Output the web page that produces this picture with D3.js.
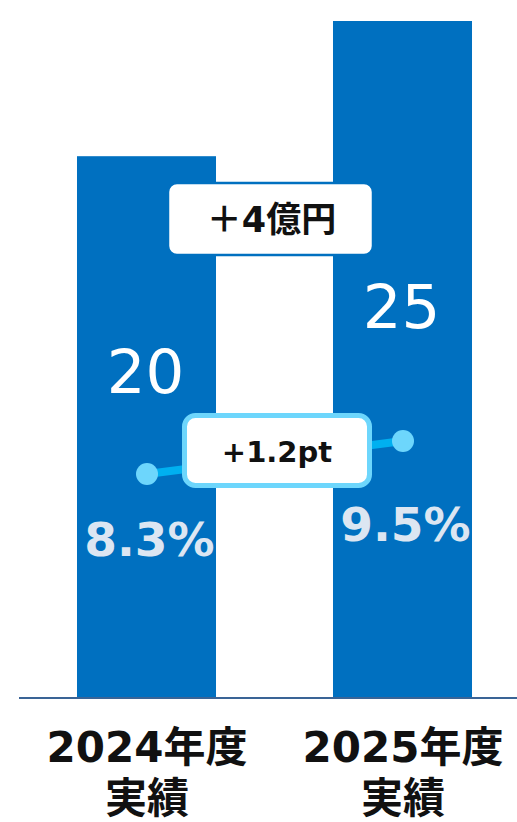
<!DOCTYPE html>
<html>
<head>
<meta charset="utf-8">
<script src="https://cdn.jsdelivr.net/npm/d3@7"></script>
<style>
  html, body { margin: 0; padding: 0; background: #fff; }
  svg { display: block; }
</style>
</head>
<body>
<svg id="chart" width="517" height="822"></svg>
<script>
// ---- data ----
const categories = ["2024年度", "2025年度"];
const categorySub = ["実績", "実績"];
const salesValues = [20, 25];          // 億円
const marginValues = [8.3, 9.5];       // %
const marginLabels = ["8.3%", "9.5%"];
const salesDiffLabel = "＋4億円";
const marginDiffLabel = "+1.2pt";

// ---- styles ----
const barColor = "#0070c0";
const lineColor = "#00b0f0";
const dotColor = "#6dd6fc";
const pctColor = "#dce6f2";
const axisColor = "#3a6496";

const W = 517, H = 822;
const baseY = 697;
const svg = d3.select("#chart");

const x = d3.scaleBand()
  .domain(categories)
  .range([18.5, 530.5])
  .paddingInner(0.457)
  .paddingOuter(0.2285);

const y = d3.scaleLinear().domain([0, 25]).range([baseY, 21]);
const yPct = d3.scaleLinear().domain([8.3, 9.5]).range([474, 441]);

// bars
svg.selectAll("rect.bar").data(salesValues).join("rect")
  .attr("class", "bar")
  .attr("x", (d, i) => x(categories[i]))
  .attr("width", x.bandwidth())
  .attr("y", d => y(d))
  .attr("height", d => baseY - y(d))
  .attr("fill", barColor);

// axis baseline
const axis = d3.axisBottom(x).tickSize(0).tickFormat("");
const gAxis = svg.append("g").attr("transform", `translate(0,${baseY})`).call(axis);
gAxis.select(".domain").remove();
svg.append("line")
  .attr("x1", 19).attr("x2", W)
  .attr("y1", baseY + 1).attr("y2", baseY + 1)
  .attr("stroke", axisColor).attr("stroke-width", 2);

// value labels
const valueLabelY = [393, 328];
svg.selectAll("text.val").data(salesValues).join("text")
  .attr("class", "val")
  .attr("x", (d, i) => x(categories[i]) + x.bandwidth() / 2 - 1)
  .attr("y", (d, i) => valueLabelY[i])
  .attr("text-anchor", "middle")
  .attr("font-family", "'DejaVu Sans', Verdana, sans-serif")
  .attr("font-size", 61)
  .attr("fill", "#fff")
  .text(d => d);

// sales diff box
const box1 = { cx: 270.5, y0: 183, y1: 255, w: 205 };
svg.append("rect")
  .attr("x", box1.cx - box1.w / 2).attr("y", box1.y0)
  .attr("width", box1.w).attr("height", box1.y1 - box1.y0)
  .attr("rx", 9).attr("ry", 9)
  .attr("fill", "#fff").attr("stroke", barColor).attr("stroke-width", 2.5);
svg.append("text")
  .attr("x", box1.cx + 1).attr("y", 232)
  .attr("text-anchor", "middle")
  .attr("font-family", "'DejaVu Sans', 'Noto Sans CJK JP', sans-serif")
  .attr("font-weight", "bold")
  .attr("font-size", 35)
  .attr("fill", "#111")
  .text(salesDiffLabel);

// margin line
const pts = marginValues.map((v, i) => [x(categories[i]) + x.bandwidth() / 2 + 0.5, yPct(v)]);
svg.append("path")
  .attr("d", d3.line()(pts))
  .attr("stroke", lineColor).attr("stroke-width", 8).attr("fill", "none");
svg.selectAll("circle.dot").data(pts).join("circle")
  .attr("class", "dot")
  .attr("cx", d => d[0]).attr("cy", d => d[1])
  .attr("r", 11)
  .attr("fill", dotColor);

// margin diff box
const box2 = { x0: 184.5, y0: 415.5, x1: 369.5, y1: 485.5 };
svg.append("rect")
  .attr("x", box2.x0).attr("y", box2.y0)
  .attr("width", box2.x1 - box2.x0).attr("height", box2.y1 - box2.y0)
  .attr("rx", 11).attr("ry", 11)
  .attr("fill", "#fff").attr("stroke", dotColor).attr("stroke-width", 5);
svg.append("text")
  .attr("x", 277).attr("y", 462)
  .attr("text-anchor", "middle")
  .attr("font-family", "'DejaVu Sans', sans-serif")
  .attr("font-weight", "bold")
  .attr("font-size", 29)
  .attr("fill", "#111")
  .text(marginDiffLabel);

// margin labels
const pctLabelY = [556, 541];
svg.selectAll("text.pct").data(marginLabels).join("text")
  .attr("class", "pct")
  .attr("x", (d, i) => x(categories[i]) + x.bandwidth() / 2 + 3)
  .attr("y", (d, i) => pctLabelY[i])
  .attr("text-anchor", "middle")
  .attr("font-family", "'DejaVu Sans', sans-serif")
  .attr("font-weight", "bold")
  .attr("font-size", 47)
  .attr("fill", pctColor)
  .text(d => d);

// category labels
const catG = svg.selectAll("text.cat").data(categories).join("text")
  .attr("class", "cat")
  .attr("text-anchor", "middle")
  .attr("font-family", "'DejaVu Sans', 'Noto Sans CJK JP', sans-serif")
  .attr("font-weight", "bold")
  .attr("font-size", 42)
  .attr("fill", "#111");
catG.append("tspan")
  .attr("x", d => x(d) + x.bandwidth() / 2 + 0.5)
  .attr("y", 762)
  .text(d => d);
catG.append("tspan")
  .attr("x", d => x(d) + x.bandwidth() / 2 + 0.5)
  .attr("y", 813)
  .text((d, i) => categorySub[i]);
</script>
</body>
</html>
